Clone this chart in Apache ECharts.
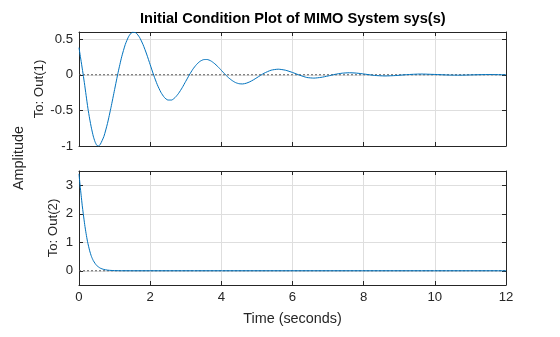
<!DOCTYPE html>
<html>
<head>
<meta charset="utf-8">
<title>Initial Condition Plot of MIMO System sys(s)</title>
<script src="https://cdn.jsdelivr.net/npm/echarts@6/dist/echarts.min.js"></script>
<style>
  html, body { margin: 0; padding: 0; background: #ffffff; }
  #chart { width: 560px; height: 337px; }
</style>
</head>
<body>
<div id="chart"></div>
<script>
// Response of output 1 (lightly damped oscillation), time in seconds
const timeOut1 = [
  0, 0.05, 0.1, 0.15, 0.2, 0.25, 0.3, 0.35, 0.4, 0.45, 0.5, 0.55, 0.6, 0.7, 0.8, 0.9,
  1.0, 1.1, 1.2, 1.3, 1.4, 1.5, 1.6, 1.7, 1.8, 1.9,
  2.0, 2.1, 2.2, 2.3, 2.4, 2.5, 2.6, 2.7, 2.8, 2.9,
  3.0, 3.1, 3.2, 3.3, 3.4, 3.5, 3.6, 3.7, 3.8, 3.9,
  4.0, 4.1, 4.2, 4.3, 4.4, 4.5, 4.6, 4.7, 4.8, 4.9,
  5.0, 5.2, 5.4, 5.6, 5.8, 6.0, 6.2, 6.4, 6.6, 6.8,
  7.0, 7.2, 7.4, 7.6, 7.8, 8.0, 8.3, 8.6, 8.9, 9.2,
  9.6, 10.0, 10.4, 10.7, 11.1, 11.5, 12.0
];
const out1 = [
  0.38, 0.22, 0.06, -0.11, -0.29, -0.47, -0.62, -0.75, -0.86, -0.94, -0.99, -1.0, -0.975, -0.865, -0.684, -0.457,
  -0.209, 0.035, 0.252, 0.424, 0.541, 0.596, 0.589, 0.526, 0.423, 0.291,
  0.142, -0.007, -0.139, -0.245, -0.319, -0.355, -0.355, -0.32, -0.26, -0.182,
  -0.092, -0.003, 0.078, 0.142, 0.188, 0.212, 0.214, 0.196, 0.161, 0.115,
  0.062, 0.009, -0.04, -0.08, -0.11, -0.126, -0.129, -0.119, -0.099, -0.072,
  -0.041, 0.021, 0.064, 0.078, 0.064, 0.032, -0.006, -0.038, -0.047, -0.037,
  -0.017, 0.006, 0.022, 0.028, 0.023, 0.011, -0.009, -0.017, -0.011, 0.001,
  0.01, 0.004, -0.004, -0.006, -0.001, 0.003, 0.0
];

// Response of output 2 (fast decay), time in seconds
const timeOut2 = [0, 0.03, 0.06, 0.09, 0.12, 0.16, 0.2, 0.24, 0.3, 0.35, 0.4, 0.45, 0.5, 0.6, 0.7, 0.8, 0.9, 1.0, 1.2, 1.5, 12];
const out2 = [3.4, 3.0, 2.65, 2.3, 2.0, 1.62, 1.3, 1.02, 0.7, 0.5, 0.36, 0.26, 0.18, 0.09, 0.045, 0.022, 0.011, 0.005, 0.001, 0, 0];

// Axis ranges and labelled ticks
const timeRange = [0, 12];
const timeTicks = [0, 2, 4, 6, 8, 10, 12];
const out1Range = [-1, 0.6];
const out1Ticks = [-1, -0.5, 0, 0.5];
const out2Range = [-0.5, 3.5];
const out2Ticks = [0, 1, 2, 3];

const FONT = '"Liberation Sans", Arial, Helvetica, sans-serif';
const INK = '#262626';
const GRID_LINE = '#dedede';
const LINE_BLUE = '#0072bd';
const ZERO_LINE = '#5c5c5c';
const TICK_FONT = 13.2;

const pairs = (xs, ys) => xs.map((x, i) => [x, ys[i]]);
const onlyTicks = (ticks) => (v) => (ticks.some(t => Math.abs(t - v) < 1e-9) ? String(v) : '');

function timeAxis(gridIndex, position, primary) {
  return {
    type: 'value',
    gridIndex,
    position,
    min: timeRange[0],
    max: timeRange[1],
    interval: 2,
    axisLine: { show: true, onZero: false, lineStyle: { color: INK, width: 1 } },
    axisTick: { show: true, inside: true, length: 4, lineStyle: { color: INK } },
    axisLabel: {
      show: primary && gridIndex === 1,
      margin: 6,
      color: INK,
      fontFamily: FONT,
      fontSize: TICK_FONT,
      formatter: onlyTicks(timeTicks)
    },
    splitLine: { show: primary, lineStyle: { color: GRID_LINE, width: 1 } }
  };
}

function valueAxis(gridIndex, position, primary, range, ticks, extra) {
  return Object.assign({
    type: 'value',
    gridIndex,
    position,
    min: range[0],
    max: range[1],
    axisLine: { show: true, onZero: false, lineStyle: { color: INK, width: 1 } },
    axisTick: { show: true, inside: true, length: 4, lineStyle: { color: INK } },
    axisLabel: {
      show: primary,
      margin: 6,
      color: INK,
      fontFamily: FONT,
      fontSize: TICK_FONT,
      formatter: onlyTicks(ticks)
    },
    splitLine: { show: primary, lineStyle: { color: GRID_LINE, width: 1 } }
  }, extra || {});
}

const chart = echarts.init(document.getElementById('chart'), null, { renderer: 'canvas', width: 560, height: 337 });

chart.setOption({
  backgroundColor: '#ffffff',
  animation: false,
  title: {
    text: 'Initial Condition Plot of MIMO System sys(s)',
    left: 140,
    top: 11,
    padding: 0,
    textStyle: { fontFamily: FONT, fontSize: 14.6, fontWeight: 'bold', color: '#000000' }
  },
  grid: [
    { left: 79, top: 32, width: 427, height: 114, containLabel: false },
    { left: 79, top: 171, width: 427, height: 114, containLabel: false }
  ],
  xAxis: [
    timeAxis(0, 'bottom', true),
    timeAxis(0, 'top', false),
    Object.assign(timeAxis(1, 'bottom', true), {
      name: 'Time (seconds)',
      nameLocation: 'middle',
      nameGap: 27,
      nameMoveOverlap: false,
      nameTextStyle: { fontFamily: FONT, fontSize: 14.4, color: INK }
    }),
    timeAxis(1, 'top', false)
  ],
  yAxis: [
    valueAxis(0, 'left', true, out1Range, out1Ticks, {
      interval: 0.5,
      name: 'To: Out(1)',
      nameLocation: 'middle',
      nameGap: 33,
      nameMoveOverlap: false,
      nameTextStyle: { fontFamily: FONT, fontSize: 13.2, color: INK }
    }),
    valueAxis(0, 'right', false, out1Range, out1Ticks, { interval: 0.5 }),
    valueAxis(1, 'left', true, out2Range, out2Ticks, {
      splitNumber: 4,
      minInterval: 1,
      maxInterval: 1,
      name: 'To: Out(2)',
      nameLocation: 'middle',
      nameGap: 19,
      nameMoveOverlap: false,
      nameTextStyle: { fontFamily: FONT, fontSize: 13.2, color: INK }
    }),
    valueAxis(1, 'right', false, out2Range, out2Ticks, { splitNumber: 4, minInterval: 1, maxInterval: 1 })
  ],
  graphic: [
    {
      type: 'text',
      x: 19,
      y: 158,
      rotation: Math.PI / 2,
      style: {
        text: 'Amplitude',
        fontFamily: FONT,
        fontSize: 14.4,
        fill: INK,
        align: 'center',
        verticalAlign: 'middle'
      }
    }
  ],
  series: [
    {
      name: 'zero1',
      type: 'line',
      xAxisIndex: 0,
      yAxisIndex: 0,
      data: [[timeRange[0], 0], [timeRange[1], 0]],
      showSymbol: false,
      silent: true,
      lineStyle: { color: ZERO_LINE, width: 1, type: [2, 2] }
    },
    {
      name: 'Out(1)',
      type: 'line',
      xAxisIndex: 0,
      yAxisIndex: 0,
      data: pairs(timeOut1, out1),
      showSymbol: false,
      smooth: 0.2,
      lineStyle: { color: LINE_BLUE, width: 1 }
    },
    {
      name: 'zero2',
      type: 'line',
      xAxisIndex: 2,
      yAxisIndex: 2,
      data: [[timeRange[0], 0], [timeRange[1], 0]],
      showSymbol: false,
      silent: true,
      lineStyle: { color: ZERO_LINE, width: 1, type: [2, 2] }
    },
    {
      name: 'Out(2)',
      type: 'line',
      xAxisIndex: 2,
      yAxisIndex: 2,
      data: pairs(timeOut2, out2),
      showSymbol: false,
      smooth: 0.2,
      lineStyle: { color: LINE_BLUE, width: 1 }
    }
  ]
});
</script>
</body>
</html>
